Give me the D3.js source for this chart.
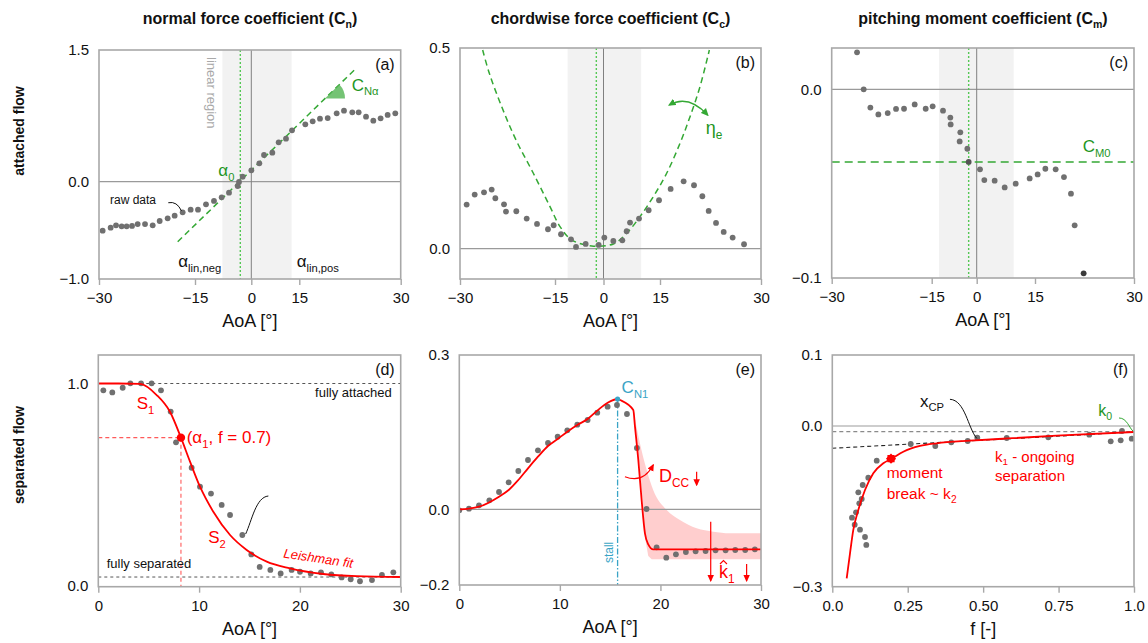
<!DOCTYPE html>
<html><head><meta charset="utf-8">
<script src="https://cdn.jsdelivr.net/npm/d3@7"></script>
<style>body{margin:0;background:#fff}</style>
</head><body><script>
// ================= DATA =================
const xTicksTop = [-30, -15, 0, 15, 30];
const xTicksBottom = [0, 10, 20, 30];
const fTicks = [0, 0.25, 0.5, 0.75, 1];
const fTickLabels = ['0.0', '0.25', '0.50', '0.75', '1.0'];
const yTicksA = [-1, 0, 1.5], yTicksB = [0, 0.5], yTicksC = [-0.1, 0];
const yTicksD = [0, 1], yTicksE = [-0.2, 0, 0.3], yTicksF = [-0.3, 0, 0.1];

const titles = [['normal force coefficient (C', 'n', ')'], ['chordwise force coefficient (C', 'c', ')'], ['pitching moment coefficient (C', 'm', ')']];
const rowLabels = ['attached flow', 'separated flow'];
const panelLabels = ['(a)', '(b)', '(c)', '(d)', '(e)', '(f)'];

// (a) normal force coefficient, attached
const aAoA = [-29.43,-28.18,-27.34,-26.46,-25.68,-24.84,-23.96,-22.81,-21.61,-20.52,-19.27,-18.18,-16.93,-15.68,-14.20,-12.07,-9.94,-7.90,-5.94,-3.63,-3.28,-2.30,0.01,2.51,3.97,6.57,8.55,10.84,12.72,15.89,16.98,18.06,19.20,20.53,21.61,22.84,23.78,24.87,25.95,27.03,28.07,29.20];
const aCn = [-0.503,-0.472,-0.448,-0.459,-0.459,-0.455,-0.435,-0.435,-0.448,-0.404,-0.376,-0.349,-0.315,-0.287,-0.287,-0.233,-0.198,-0.161,-0.113,-0.044,-0.003,0.057,0.129,0.209,0.304,0.331,0.448,0.490,0.585,0.653,0.688,0.718,0.725,0.779,0.809,0.790,0.790,0.741,0.695,0.722,0.760,0.779];
const aFitAoA = [-17.70, 23.49], aFitCn = [-0.617, 1.298];
const aLinRegion = [-7.7, 12.6], aAlpha0 = -2.93;

// (b) chordwise force coefficient, attached
const bAoA = [-28.95,-27.68,-26.21,-25.0,-24.42,-23.05,-22.74,-21.11,-19.47,-17.84,-16.11,-15.21,-13.14,-10.05,-8.50,-5.51,-1.49,0.22,2.61,5.00,6.15,7.04,9.43,11.99,14.74,16.58,18.51,20.05,21.29,22.23,23.32,24.46,25.79,27.48];
const bCc = [0.1097,0.1346,0.1404,0.1471,0.1255,0.1105,0.0923,0.0931,0.0748,0.0615,0.0483,0.0582,0.0358,0.0233,0.0042,0.0117,0.0092,0.0275,0.0192,0.0208,0.0433,0.0648,0.0748,0.0956,0.1205,0.1487,0.1678,0.1579,0.1305,0.0939,0.0640,0.0416,0.0275,0.0109];
const bFitAoA = [-26.42,-25.37,-23.42,-21.16,-18.42,-15.79,-13.45,-9.84,-3.66,2.61,6.15,9.69,13.23,15.99,17.97,19.46,20.94,22.33];
const bFitCc = [0.495,0.4369,0.3538,0.2708,0.1878,0.1047,0.0549,0.0217,0.0067,0.0117,0.0383,0.0798,0.1296,0.1878,0.2625,0.3289,0.4037,0.495];
const bLinRegion = [-11.1, 10.0], bAlpha0 = -2.22;

// (c) pitching moment coefficient, attached
const cAoA = [-26.2,-25.2,-24.2,-23.0,-21.6,-20.35,-19.15,-17.55,-15.9,-14.68,-11.23,-8.79,-8.68,-5.46,-5.68,-3.12,-2.68,0.85,1.96,4.62,7.20,10.03,13.63,15.40,16.57,18.13,19.39,20.45,21.01,22.37];
const cCm = [0.0196,0.0,-0.0097,-0.0133,-0.0126,-0.0104,-0.0103,-0.0080,-0.0103,-0.0090,-0.0113,-0.0150,-0.0186,-0.0228,-0.0276,-0.0315,-0.0385,-0.0424,-0.0481,-0.0484,-0.0520,-0.0500,-0.0472,-0.0451,-0.0421,-0.0424,-0.0465,-0.0553,-0.0721,-0.0975];
const cLinRegion = [-12.57, 9.51], cAlpha0 = -2.68, cM0 = -0.0385;

// (d) separation point f, separated
const dAoA = [0.50,1.39,2.42,3.18,4.24,5.29,6.22,7.18,7.71,9.26,10.09,11.18,12.24,13.07,14.29,15.18,16.01,17.07,18.09,19.18,20.01,21.07,22.09,23.12,24.14,25.04,25.96,27.15,28.14,29.27];
const dF = [0.966,0.956,0.979,1.001,1.001,1.001,0.966,0.861,0.709,0.583,0.489,0.455,0.399,0.349,0.250,0.154,0.092,0.077,0.060,0.077,0.068,0.060,0.065,0.055,0.040,0.031,0.021,0.027,0.052,0.065];
const dFitAoA = [0, 2.0, 4.14, 5.79, 7.11, 8.20, 9.10, 10.09, 11.41, 13.07, 14.72, 16.71, 19.02, 22.32, 25.63, 30.0];
const dFitF = [1.0, 1.0, 0.998, 0.943, 0.860, 0.732, 0.613, 0.489, 0.365, 0.250, 0.176, 0.118, 0.085, 0.057, 0.046, 0.042];
const dAlpha1 = 8.20, dF1 = 0.732, dFullyAttached = 1.0, dFullySeparated = 0.042;

// (e) chordwise force, separated
const eAoA = [0.0,0.96,1.96,2.99,3.95,4.91,5.87,6.83,7.82,8.82,9.78,10.74,11.73,12.76,13.72,14.75,15.68,16.67,17.66,18.62,19.62,20.58,21.54,22.53,23.50,24.49,25.48,26.48,27.44,28.43,29.39];
const eCc = [-0.0027,0.0012,0.0077,0.0174,0.0336,0.0524,0.0745,0.0959,0.1147,0.1289,0.1412,0.1536,0.1646,0.1736,0.1879,0.1996,0.2028,0.1853,0.1192,0.0006,-0.1005,-0.1278,-0.1190,-0.1128,-0.1110,-0.1102,-0.1084,-0.1084,-0.1075,-0.1075,-0.1058];
const eFitAoA = [0, 0.96, 1.96, 3.95, 4.91, 5.87, 6.83, 7.82, 8.82, 9.78, 10.74, 11.73, 12.76, 13.72, 14.75, 15.74, 15.98, 17.30, 17.47, 17.80, 18.13, 18.46, 18.79, 19.29, 30];
const eFitCc = [0, 0.0015, 0.0051, 0.0246, 0.0375, 0.0570, 0.0797, 0.1023, 0.1231, 0.1367, 0.1509, 0.1639, 0.1756, 0.1918, 0.2073, 0.2145, 0.2125, 0.1931, 0.1607, 0.0959, 0.0181, -0.0635, -0.0925, -0.1058, -0.1058];
const eBandTopAoA = [17.30, 17.96, 18.63, 19.28, 20.62, 21.94, 23.60, 25.25, 26.91, 30];
const eBandTopCc = [0.1931, 0.1283, 0.0764, 0.0375, -0.0018, -0.0283, -0.0502, -0.0592, -0.0634, -0.0634];
const eBandBotAoA = [17.30, 17.47, 17.86, 18.21, 18.51, 18.79, 19.13, 30];
const eBandBotCc = [0.1931, 0.1737, 0.0959, 0.0181, -0.0811, -0.1234, -0.1321, -0.1321];
const eStall = [15.74, 0.2145];

// (f) pitching moment vs f, separated
const fF = [0.0653,0.0742,0.0786,0.0862,0.0895,0.0918,0.0975,0.1008,0.1084,0.1127,0.1193,0.1472,0.2599,0.3414,0.3944,0.4488,0.4806,0.5781,0.7159,0.8518,0.9228,0.9559,0.9602,0.9924];
const fCm = [-0.1712,-0.1842,-0.1611,-0.1238,-0.1443,-0.1936,-0.1363,-0.1101,-0.2072,-0.2221,-0.0965,-0.0648,-0.0336,-0.0373,-0.0304,-0.0280,-0.0218,-0.0224,-0.0211,-0.0162,-0.0286,-0.0267,-0.0093,-0.0237];
const fFitF = [0.0477,0.0587,0.0696,0.0862,0.1084,0.1359,0.1690,0.1969,0.2353,0.2907,0.3460,0.4564,0.5508,0.7438,1.0];
const fFitCm = [-0.2843,-0.2376,-0.1941,-0.1568,-0.1195,-0.0883,-0.0696,-0.0610,-0.0480,-0.0373,-0.0323,-0.0274,-0.0243,-0.0181,-0.0112];
const fBreak = [0.1946, -0.0610];
const fLinF = [0, 1], fLinCm = [-0.0416, -0.0112];
const fGrayRef = -0.0106;

// ================= STYLE / LAYOUT =================
const FONT = '"Liberation Sans", Arial, Helvetica, sans-serif';
const GREEN = '#34a834', GREEN_T = '#1f961f', GREEN_DOT = '#55c855';
const RED = '#ff0000', CYAN = '#3aa4c6', DOT = '#707070', BORDER = '#a8a8a8';

const svg = d3.select('body').append('svg').attr('width', 1148).attr('height', 643)
  .style('font-family', FONT);
const defs = svg.append('defs');
function marker(id, color) {
  defs.append('marker').attr('id', id).attr('viewBox', '0 0 10 10').attr('refX', 8).attr('refY', 5)
    .attr('markerWidth', 6).attr('markerHeight', 6).attr('orient', 'auto-start-reverse')
    .append('path').attr('d', 'M0,0.5 L10,5 L0,9.5 z').attr('fill', color);
}
marker('arrG', GREEN); marker('arrR', RED);

const zip = (a, b) => a.map((v, i) => [v, b[i]]);

function rich(parent, x, y, parts, size, color, anchor = 'start', weight = 'normal', subShift = 0.28) {
  const t = parent.append('text').attr('x', x).attr('y', y).attr('font-size', size)
    .attr('fill', color).attr('text-anchor', anchor).attr('font-weight', weight);
  let shift = 0;
  parts.forEach((p, i) => {
    const isSub = i % 2 === 1;
    const target = isSub ? size * subShift : 0;
    const ts = t.append('tspan').text(p).attr('dy', target - shift);
    if (isSub) ts.attr('font-size', size * 0.66);
    shift = target;
  });
  return t;
}

function makePanel(box, x, y, xTickVals, xTickFmt, yTickVals, label, xTitle) {
  const g = svg.append('g');
  const id = 'clip' + label.replace(/[()]/g, '');
  defs.append('clipPath').attr('id', id).append('rect')
    .attr('x', box.x0).attr('y', box.y0).attr('width', box.x1 - box.x0).attr('height', box.y1 - box.y0);
  const plot = g.append('g').attr('clip-path', `url(#${id})`);
  const P = { g, plot, x, y, box };
  P.finish = () => {
    g.append('rect').attr('x', box.x0).attr('y', box.y0).attr('width', box.x1 - box.x0)
      .attr('height', box.y1 - box.y0).attr('fill', 'none').attr('stroke', BORDER).attr('stroke-width', 1.6);
    const ax = g.append('g').attr('transform', `translate(0,${box.y1})`)
      .call(d3.axisBottom(x).tickValues(xTickVals).tickFormat(xTickFmt).tickSize(6).tickPadding(7.5));
    ax.select('.domain').remove();
    ax.selectAll('line').attr('stroke', BORDER).attr('stroke-width', 1.4);
    ax.selectAll('text').attr('font-size', 15).attr('font-family', FONT).attr('fill', '#111');
    const ay = g.append('g').attr('transform', `translate(${box.x0},0)`)
      .call(d3.axisLeft(y).tickValues(yTickVals).tickFormat(d3.format('.1f')).tickSize(0).tickPadding(10));
    ay.select('.domain').remove();
    ay.selectAll('text').attr('font-size', 15).attr('font-family', FONT).attr('fill', '#111');
    g.append('text').attr('x', box.x1 - 6).attr('y', box.y0 + 20).attr('text-anchor', 'end')
      .attr('font-size', 16).attr('fill', '#111').text(label);
    rich(g, (box.x0 + box.x1) / 2, box.y1 + 48, [xTitle], 18, '#111', 'middle');
  };
  return P;
}

function hRule(P, yv, stroke, w, dash) {
  P.plot.append('line').attr('x1', P.box.x0).attr('x2', P.box.x1).attr('y1', P.y(yv)).attr('y2', P.y(yv))
    .attr('stroke', stroke).attr('stroke-width', w).attr('stroke-dasharray', dash || null);
}
function vRule(P, xv, stroke, w, dash, yTop) {
  P.plot.append('line').attr('x1', P.x(xv)).attr('x2', P.x(xv))
    .attr('y1', yTop === undefined ? P.box.y0 : P.y(yTop)).attr('y2', P.box.y1)
    .attr('stroke', stroke).attr('stroke-width', w).attr('stroke-dasharray', dash || null);
}
function band(P, r) {
  P.plot.append('rect').attr('x', P.x(r[0])).attr('width', P.x(r[1]) - P.x(r[0]))
    .attr('y', P.box.y0).attr('height', P.box.y1 - P.box.y0).attr('fill', '#f2f2f2');
}
function dots(P, xs, ys, color = DOT) {
  P.plot.selectAll(null).data(zip(xs, ys)).join('circle')
    .attr('cx', d => P.x(d[0])).attr('cy', d => P.y(d[1])).attr('r', 2.9).attr('fill', color);
}
function curve(P, xs, ys, stroke, w, dash, cv = d3.curveMonotoneX) {
  const ln = d3.line().x(d => P.x(d[0])).y(d => P.y(d[1])).curve(cv);
  return P.plot.append('path').attr('d', ln(zip(xs, ys))).attr('fill', 'none')
    .attr('stroke', stroke).attr('stroke-width', w).attr('stroke-dasharray', dash || null);
}
function pathData(P, pts, cmd) { // pts in data space; cmd: 'Q' or 'C'
  const p = pts.map(d => [P.x(d[0]), P.y(d[1])]);
  return `M${p[0][0]},${p[0][1]} ${cmd}${p.slice(1).map(q => q.join(',')).join(' ')}`;
}

// ================= TITLES =================
[250, 610.5, 983].forEach((cx, i) => rich(svg, cx, 24, titles[i], 16, '#111', 'middle', 'bold', 0.25));
svg.append('text').attr('transform', 'translate(24,131) rotate(-90)').attr('text-anchor', 'middle')
  .attr('font-size', 14).attr('font-weight', 'bold').attr('fill', '#111').text(rowLabels[0]);
svg.append('text').attr('transform', 'translate(24,455) rotate(-90)').attr('text-anchor', 'middle')
  .attr('font-size', 14).attr('font-weight', 'bold').attr('fill', '#111').text(rowLabels[1]);

const fmtInt = d3.format('d');

// ================= (a) =================
{
  const box = { x0: 99, x1: 400.7, y0: 50, y1: 279 };
  const x = d3.scaleLinear().domain(xTicksTop).range([99, 195, 251.3, 299.3, 400.7]);
  const y = d3.scaleLinear().domain([-1, 0, 1.5]).range([279, 181.7, 50]);
  const P = makePanel(box, x, y, xTicksTop, fmtInt, yTicksA, panelLabels[0], 'AoA [°]');
  band(P, aLinRegion);
  hRule(P, 0, '#9a9a9a', 1.2);
  vRule(P, 0, '#808080', 1);
  vRule(P, aAlpha0, GREEN_DOT, 1.4, '2,2');
  curve(P, aFitAoA, aFitCn, GREEN, 1.5, '6,4', d3.curveLinear);
  dots(P, aAoA, aCn);
  // wedge C_N alpha
  const p0 = [x(aFitAoA[0]), y(aFitCn[0])], p1 = [x(aFitAoA[1]), y(aFitCn[1])];
  const t = (x(18.8) - p0[0]) / (p1[0] - p0[0]);
  const apex = [p0[0] + t * (p1[0] - p0[0]), p0[1] + t * (p1[1] - p0[1])];
  const th = Math.atan2(p0[1] - p1[1], p1[0] - p0[0]); const r = 20;
  P.plot.append('path').attr('d', `M${apex[0]},${apex[1]} L${apex[0] + r},${apex[1]} A${r},${r} 0 0 0 ${apex[0] + r * Math.cos(th)},${apex[1] - r * Math.sin(th)} Z`)
    .attr('fill', '#5cb85c').attr('opacity', 0.85);
  rich(P.g, x(22.75), y(1.036), ['C', 'Nα'], 17, GREEN_T);
  rich(P.g, x(-8.79), y(0.065), ['α', '0'], 17, GREEN_T);
  P.g.append('text').attr('transform', `translate(${x(-11.8)},${box.y0 + 7}) rotate(90)`)
    .attr('font-size', 13).attr('fill', '#a9a9a9').text('linear region');
  P.g.append('text').attr('x', x(-28.28)).attr('y', y(-0.232)).attr('font-size', 12).attr('fill', '#111').text('raw data');
  P.g.append('path').attr('d', pathData(P, [[-19.17, -0.216], [-17.81, -0.198], [-17.11, -0.301]], 'Q'))
    .attr('fill', 'none').attr('stroke', '#111').attr('stroke-width', 1);
  rich(P.g, x(-17.61), y(-0.88), ['α', 'lin,neg'], 17, '#111');
  rich(P.g, x(14.19), y(-0.88), ['α', 'lin,pos'], 17, '#111');
  P.finish();
}

// ================= (b) =================
{
  const box = { x0: 460, x1: 761, y0: 48, y1: 279 };
  const x = d3.scaleLinear().domain(xTicksTop).range([460, 555, 603.5, 660, 761]);
  const y = d3.scaleLinear().domain([-0.0757, 0.5]).range([279, 48]);
  const P = makePanel(box, x, y, xTicksTop, fmtInt, yTicksB, panelLabels[1], 'AoA [°]');
  band(P, bLinRegion);
  hRule(P, 0, '#9a9a9a', 1.2);
  vRule(P, 0, '#808080', 1);
  vRule(P, bAlpha0, GREEN_DOT, 1.4, '2,2');
  curve(P, bFitAoA, bFitCc, GREEN, 1.5, '6,4', d3.curveCatmullRom);
  dots(P, bAoA, bCc);
  P.g.append('path').attr('d', pathData(P, [[16.38, 0.358], [19.2, 0.385], [22.08, 0.333]], 'Q'))
    .attr('fill', 'none').attr('stroke', GREEN).attr('stroke-width', 1.3)
    .attr('marker-start', 'url(#arrG)').attr('marker-end', 'url(#arrG)');
  rich(P.g, x(21.79), y(0.285), ['η', 'e'], 18, GREEN_T);
  P.finish();
}

// ================= (c) =================
{
  const box = { x0: 831.7, x1: 1134, y0: 48, y1: 278 };
  const x = d3.scaleLinear().domain(xTicksTop).range([831.7, 931.7, 976.7, 1035, 1134]);
  const y = d3.scaleLinear().domain([-0.1, 0.0219]).range([278, 48]);
  const P = makePanel(box, x, y, xTicksTop, fmtInt, yTicksC, panelLabels[2], 'AoA [°]');
  band(P, cLinRegion);
  hRule(P, 0, '#9a9a9a', 1.2);
  vRule(P, 0, '#808080', 1);
  vRule(P, cAlpha0, GREEN_DOT, 1.4, '2,2');
  hRule(P, cM0, GREEN, 1.5, '8,5');
  dots(P, cAoA, cCm);
  P.plot.selectAll('circle').filter((d, i) => i === cAoA.length - 1).attr('fill', '#3a3a3a');
  P.plot.selectAll('circle').filter((d, i) => i === 16).attr('fill', '#555');
  rich(P.g, x(22.23), y(-0.0331), ['C', 'M0'], 17, GREEN_T);
  P.finish();
}

// ================= (d) =================
{
  const box = { x0: 98.3, x1: 400.7, y0: 355, y1: 586.7 };
  const x = d3.scaleLinear().domain([0, 30]).range([98.3, 400.7]);
  const y = d3.scaleLinear().domain([0, 1]).range([585.5, 383.5]);
  const P = makePanel(box, x, y, xTicksBottom, fmtInt, yTicksD, panelLabels[3], 'AoA [°]');
  hRule(P, dFullyAttached, '#555', 1, '3,3');
  hRule(P, dFullySeparated, '#555', 1, '3,3');
  P.plot.append('line').attr('x1', box.x0).attr('x2', x(dAlpha1)).attr('y1', y(dF1)).attr('y2', y(dF1))
    .attr('stroke', '#ff5a5a').attr('stroke-width', 1.1).attr('stroke-dasharray', '4,3');
  vRule(P, dAlpha1, '#ff5a5a', 1.1, '4,3', dF1);
  dots(P, dAoA, dF);
  curve(P, dFitAoA, dFitF, RED, 1.8);
  P.plot.append('circle').attr('cx', x(dAlpha1)).attr('cy', y(dF1)).attr('r', 4.2).attr('fill', RED);
  rich(P.g, x(8.77), y(0.704), ['(α', '1', ', f = 0.7)'], 17, RED);
  rich(P.g, x(3.81), y(0.874), ['S', '1'], 17, RED);
  rich(P.g, x(10.91), y(0.209), ['S', '2'], 17, RED);
  P.g.append('text').attr('transform', `translate(${x(21.77)},${y(0.113)}) rotate(8.5)`).attr('text-anchor', 'middle')
    .attr('font-size', 13).attr('font-style', 'italic').attr('fill', RED).text('Leishman fit');
  P.g.append('text').attr('x', x(29.11)).attr('y', y(0.932)).attr('text-anchor', 'end').attr('font-size', 13).attr('fill', '#111').text('fully attached');
  P.g.append('text').attr('x', x(0.83)).attr('y', y(0.085)).attr('font-size', 13).attr('fill', '#111').text('fully separated');
  P.g.append('path').attr('d', pathData(P, [[14.62, 0.255], [15.25, 0.324], [15.65, 0.438], [16.87, 0.443]], 'C'))
    .attr('fill', 'none').attr('stroke', '#111').attr('stroke-width', 1);
  P.finish();
}

// ================= (e) =================
{
  const box = { x0: 459.3, x1: 761, y0: 355, y1: 585 };
  const x = d3.scaleLinear().domain([0, 30]).range([459.3, 761]);
  const y = d3.scaleLinear().domain([-0.2, 0, 0.3]).range([585, 509.3, 355]);
  const P = makePanel(box, x, y, xTicksBottom, fmtInt, yTicksE, panelLabels[4], 'AoA [°]');
  // uncertainty band
  const lnT = d3.line().x(d => x(d[0])).y(d => y(d[1])).curve(d3.curveMonotoneX);
  const lnB = d3.line().x(d => x(d[0])).y(d => y(d[1])).curve(d3.curveLinear);
  const top = lnT(zip(eBandTopAoA, eBandTopCc));
  const bot = lnB(zip(eBandBotAoA, eBandBotCc).reverse()).replace(/^M/, 'L');
  P.plot.append('path').attr('d', top + bot + 'Z').attr('fill', '#ffc9c9').attr('opacity', 0.9);
  hRule(P, 0, '#9a9a9a', 1.2);
  vRule(P, eStall[0], CYAN, 1.3, '6,2,1.5,2', eStall[1]);
  dots(P, eAoA, eCc);
  curve(P, eFitAoA, eFitCc, RED, 1.8);
  P.plot.append('circle').attr('cx', x(eStall[0])).attr('cy', y(eStall[1])).attr('r', 2.6).attr('fill', CYAN);
  rich(P.g, x(16.14), y(0.2259), ['C', 'N1'], 17, CYAN);
  P.g.append('text').attr('transform', `translate(${x(15.28)},${y(-0.114)}) rotate(-90)`).attr('text-anchor', 'middle')
    .attr('font-size', 12).attr('fill', CYAN).text('stall');
  rich(P.g, x(19.85), y(0.0537), ['D', 'CC'], 18, RED);
  const arrow = (x0, y0, x1, y1) => P.g.append('line').attr('x1', x(x0)).attr('x2', x(x1)).attr('y1', y(y0)).attr('y2', y(y1))
    .attr('stroke', RED).attr('stroke-width', 1.2).attr('marker-end', 'url(#arrR)');
  arrow(23.6, 0.0731, 23.6, 0.0473);
  arrow(25.0, -0.0328, 25.0, -0.1886);
  arrow(28.57, -0.1445, 28.57, -0.1886);
  P.g.append('path').attr('d', pathData(P, [[16.47, 0.0634], [18.26, 0.0492], [19.28, 0.0861]], 'Q'))
    .attr('fill', 'none').attr('stroke', RED).attr('stroke-width', 1.2).attr('marker-end', 'url(#arrR)');
  const kx = x(25.82), ky = y(-0.1815);
  rich(P.g, kx, ky, ['k', '1'], 18, RED);
  P.g.append('path').attr('d', `M${kx + 1},${ky - 14} L${kx + 4.5},${ky - 17.5} L${kx + 8},${ky - 14}`)
    .attr('fill', 'none').attr('stroke', RED).attr('stroke-width', 1.1);
  P.finish();
}

// ================= (f) =================
{
  const box = { x0: 832.3, x1: 1134, y0: 355, y1: 586.7 };
  const x = d3.scaleLinear().domain([0, 1]).range([832.3, 1134]);
  const y = d3.scaleLinear().domain([-0.3, 0, 0.1]).range([586.7, 426, 355]);
  const P = makePanel(box, x, y, fTicks, (d, i) => fTickLabels[i], yTicksF, panelLabels[5], 'f [-]');
  hRule(P, 0, '#bdbdbd', 1.6);
  hRule(P, fGrayRef, '#8a8a8a', 1.2, '4,3');
  curve(P, fLinF, fLinCm, '#222', 1.1, '4,3', d3.curveLinear);
  dots(P, fF, fCm);
  curve(P, fFitF, fFitCm, RED, 1.8);
  const bx = x(fBreak[0]), by = y(fBreak[1]);
  [0, 45].forEach(a => P.plot.append('path').attr('d', d3.symbol(d3.symbolSquare, 52)())
    .attr('transform', `translate(${bx},${by}) rotate(${a})`).attr('fill', RED));
  rich(P.g, x(0.2906), y(0.0272), ['x', 'CP'], 17, '#111');
  P.g.append('path').attr('d', pathData(P, [[0.39, 0.0376], [0.4398, 0.0366], [0.4498, -0.0037], [0.4786, -0.0230]], 'C'))
    .attr('fill', 'none').attr('stroke', '#111').attr('stroke-width', 1);
  rich(P.g, x(0.8817), y(0.0141), ['k', '0'], 16, GREEN_T);
  P.g.append('path').attr('d', pathData(P, [[0.9503, 0.0113], [0.9768, 0.0113], [0.9834, -0.0037], [0.9983, -0.0103]], 'C'))
    .attr('fill', 'none').attr('stroke', GREEN).attr('stroke-width', 1);
  rich(P.g, x(0.5393), y(-0.0680), ['k', '1', ' - ongoing'], 15, RED, 'start', 'normal', 0.2);
  rich(P.g, x(0.5393), y(-0.1030), ['separation'], 15, RED);
  rich(P.g, x(0.1803), y(-0.0965), ['moment'], 15.5, RED);
  rich(P.g, x(0.1803), y(-0.1363), ['break  ~ k', '2'], 15.5, RED);
  P.finish();
}
</script></body></html>
